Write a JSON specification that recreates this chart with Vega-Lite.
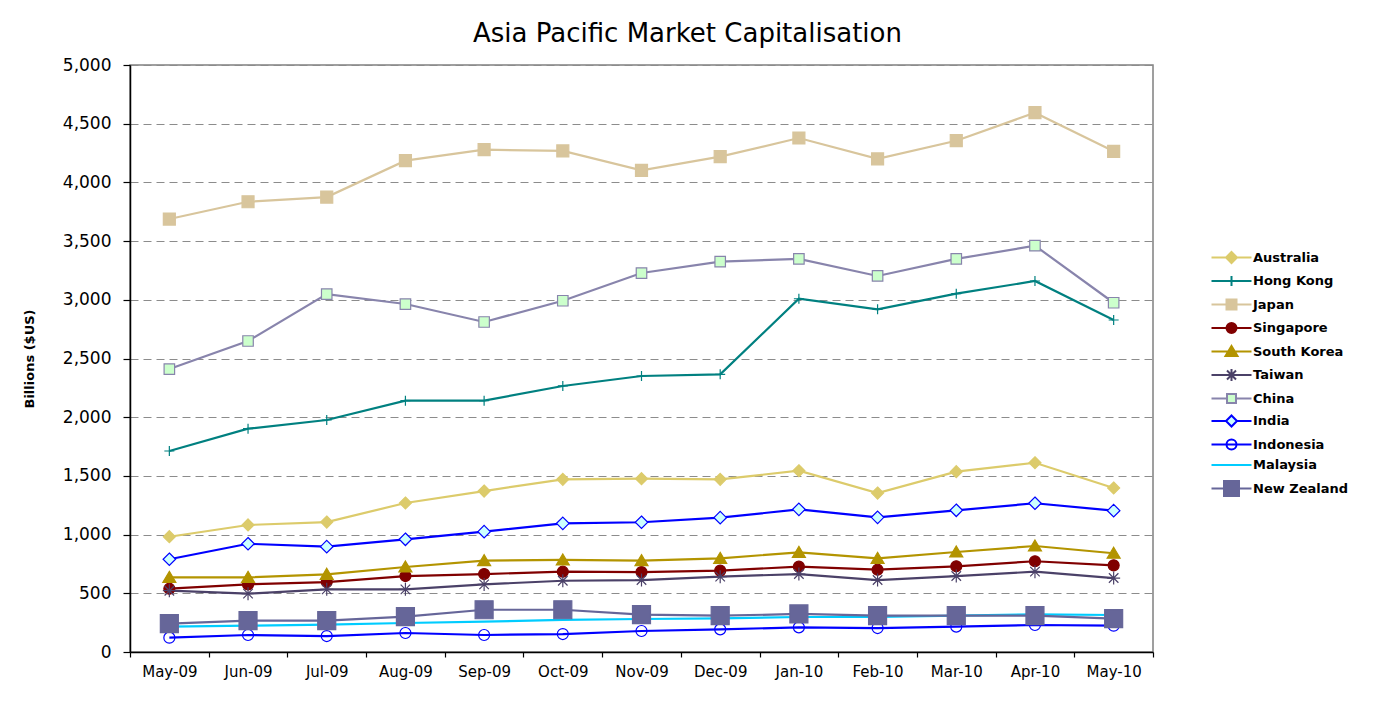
{
  "$schema": "https://vega.github.io/schema/vega-lite/v6.json",
  "autosize": {"type": "none"},
  "width": 1023,
  "height": 587,
  "padding": {"left": 130, "top": 65, "right": 220, "bottom": 74},
  "background": "#ffffff",
  "title": {
    "text": "Asia Pacific Market Capitalisation",
    "font": "DejaVu Sans",
    "fontSize": 26,
    "fontWeight": "normal",
    "color": "#000000",
    "anchor": "middle",
    "baseline": "alphabetic",
    "dx": 46,
    "dy": 28,
    "offset": 16
  },
  "data": {
    "values": [
      {"month": "May-09", "series": "Australia", "value": 982},
      {"month": "Jun-09", "series": "Australia", "value": 1082},
      {"month": "Jul-09", "series": "Australia", "value": 1107},
      {"month": "Aug-09", "series": "Australia", "value": 1269},
      {"month": "Sep-09", "series": "Australia", "value": 1371},
      {"month": "Oct-09", "series": "Australia", "value": 1471},
      {"month": "Nov-09", "series": "Australia", "value": 1476},
      {"month": "Dec-09", "series": "Australia", "value": 1471},
      {"month": "Jan-10", "series": "Australia", "value": 1544},
      {"month": "Feb-10", "series": "Australia", "value": 1354},
      {"month": "Mar-10", "series": "Australia", "value": 1536},
      {"month": "Apr-10", "series": "Australia", "value": 1612},
      {"month": "May-10", "series": "Australia", "value": 1397},
      {"month": "May-09", "series": "Hong Kong", "value": 1712},
      {"month": "Jun-09", "series": "Hong Kong", "value": 1902},
      {"month": "Jul-09", "series": "Hong Kong", "value": 1976},
      {"month": "Aug-09", "series": "Hong Kong", "value": 2141},
      {"month": "Sep-09", "series": "Hong Kong", "value": 2141},
      {"month": "Oct-09", "series": "Hong Kong", "value": 2266},
      {"month": "Nov-09", "series": "Hong Kong", "value": 2351},
      {"month": "Dec-09", "series": "Hong Kong", "value": 2365},
      {"month": "Jan-10", "series": "Hong Kong", "value": 3009},
      {"month": "Feb-10", "series": "Hong Kong", "value": 2919},
      {"month": "Mar-10", "series": "Hong Kong", "value": 3052},
      {"month": "Apr-10", "series": "Hong Kong", "value": 3160},
      {"month": "May-10", "series": "Hong Kong", "value": 2828},
      {"month": "May-09", "series": "Japan", "value": 3688},
      {"month": "Jun-09", "series": "Japan", "value": 3835},
      {"month": "Jul-09", "series": "Japan", "value": 3875},
      {"month": "Aug-09", "series": "Japan", "value": 4185},
      {"month": "Sep-09", "series": "Japan", "value": 4279},
      {"month": "Oct-09", "series": "Japan", "value": 4268},
      {"month": "Nov-09", "series": "Japan", "value": 4103},
      {"month": "Dec-09", "series": "Japan", "value": 4219},
      {"month": "Jan-10", "series": "Japan", "value": 4378},
      {"month": "Feb-10", "series": "Japan", "value": 4200},
      {"month": "Mar-10", "series": "Japan", "value": 4355},
      {"month": "Apr-10", "series": "Japan", "value": 4594},
      {"month": "May-10", "series": "Japan", "value": 4265},
      {"month": "May-09", "series": "Singapore", "value": 539},
      {"month": "Jun-09", "series": "Singapore", "value": 576},
      {"month": "Jul-09", "series": "Singapore", "value": 596},
      {"month": "Aug-09", "series": "Singapore", "value": 647},
      {"month": "Sep-09", "series": "Singapore", "value": 664},
      {"month": "Oct-09", "series": "Singapore", "value": 684},
      {"month": "Nov-09", "series": "Singapore", "value": 681},
      {"month": "Dec-09", "series": "Singapore", "value": 693},
      {"month": "Jan-10", "series": "Singapore", "value": 727},
      {"month": "Feb-10", "series": "Singapore", "value": 701},
      {"month": "Mar-10", "series": "Singapore", "value": 730},
      {"month": "Apr-10", "series": "Singapore", "value": 773},
      {"month": "May-10", "series": "Singapore", "value": 738},
      {"month": "May-09", "series": "South Korea", "value": 636},
      {"month": "Jun-09", "series": "South Korea", "value": 636},
      {"month": "Jul-09", "series": "South Korea", "value": 662},
      {"month": "Aug-09", "series": "South Korea", "value": 724},
      {"month": "Sep-09", "series": "South Korea", "value": 778},
      {"month": "Oct-09", "series": "South Korea", "value": 784},
      {"month": "Nov-09", "series": "South Korea", "value": 778},
      {"month": "Dec-09", "series": "South Korea", "value": 798},
      {"month": "Jan-10", "series": "South Korea", "value": 849},
      {"month": "Feb-10", "series": "South Korea", "value": 798},
      {"month": "Mar-10", "series": "South Korea", "value": 852},
      {"month": "Apr-10", "series": "South Korea", "value": 903},
      {"month": "May-10", "series": "South Korea", "value": 841},
      {"month": "May-09", "series": "Taiwan", "value": 522},
      {"month": "Jun-09", "series": "Taiwan", "value": 497},
      {"month": "Jul-09", "series": "Taiwan", "value": 534},
      {"month": "Aug-09", "series": "Taiwan", "value": 534},
      {"month": "Sep-09", "series": "Taiwan", "value": 576},
      {"month": "Oct-09", "series": "Taiwan", "value": 607},
      {"month": "Nov-09", "series": "Taiwan", "value": 613},
      {"month": "Dec-09", "series": "Taiwan", "value": 642},
      {"month": "Jan-10", "series": "Taiwan", "value": 664},
      {"month": "Feb-10", "series": "Taiwan", "value": 613},
      {"month": "Mar-10", "series": "Taiwan", "value": 647},
      {"month": "Apr-10", "series": "Taiwan", "value": 684},
      {"month": "May-10", "series": "Taiwan", "value": 630},
      {"month": "May-09", "series": "China", "value": 2410},
      {"month": "Jun-09", "series": "China", "value": 2649},
      {"month": "Jul-09", "series": "China", "value": 3049},
      {"month": "Aug-09", "series": "China", "value": 2964},
      {"month": "Sep-09", "series": "China", "value": 2811},
      {"month": "Oct-09", "series": "China", "value": 2992},
      {"month": "Nov-09", "series": "China", "value": 3228},
      {"month": "Dec-09", "series": "China", "value": 3325},
      {"month": "Jan-10", "series": "China", "value": 3348},
      {"month": "Feb-10", "series": "China", "value": 3203},
      {"month": "Mar-10", "series": "China", "value": 3348},
      {"month": "Apr-10", "series": "China", "value": 3461},
      {"month": "May-10", "series": "China", "value": 2975},
      {"month": "May-09", "series": "India", "value": 790},
      {"month": "Jun-09", "series": "India", "value": 922},
      {"month": "Jul-09", "series": "India", "value": 897},
      {"month": "Aug-09", "series": "India", "value": 960},
      {"month": "Sep-09", "series": "India", "value": 1025},
      {"month": "Oct-09", "series": "India", "value": 1096},
      {"month": "Nov-09", "series": "India", "value": 1105},
      {"month": "Dec-09", "series": "India", "value": 1144},
      {"month": "Jan-10", "series": "India", "value": 1215},
      {"month": "Feb-10", "series": "India", "value": 1147},
      {"month": "Mar-10", "series": "India", "value": 1207},
      {"month": "Apr-10", "series": "India", "value": 1267},
      {"month": "May-10", "series": "India", "value": 1204},
      {"month": "May-09", "series": "Indonesia", "value": 122},
      {"month": "Jun-09", "series": "Indonesia", "value": 145},
      {"month": "Jul-09", "series": "Indonesia", "value": 136},
      {"month": "Aug-09", "series": "Indonesia", "value": 162},
      {"month": "Sep-09", "series": "Indonesia", "value": 145},
      {"month": "Oct-09", "series": "Indonesia", "value": 153},
      {"month": "Nov-09", "series": "Indonesia", "value": 179},
      {"month": "Dec-09", "series": "Indonesia", "value": 193},
      {"month": "Jan-10", "series": "Indonesia", "value": 210},
      {"month": "Feb-10", "series": "Indonesia", "value": 204},
      {"month": "Mar-10", "series": "Indonesia", "value": 216},
      {"month": "Apr-10", "series": "Indonesia", "value": 230},
      {"month": "May-10", "series": "Indonesia", "value": 224},
      {"month": "May-09", "series": "Malaysia", "value": 216},
      {"month": "Jun-09", "series": "Malaysia", "value": 224},
      {"month": "Jul-09", "series": "Malaysia", "value": 233},
      {"month": "Aug-09", "series": "Malaysia", "value": 247},
      {"month": "Sep-09", "series": "Malaysia", "value": 258},
      {"month": "Oct-09", "series": "Malaysia", "value": 273},
      {"month": "Nov-09", "series": "Malaysia", "value": 281},
      {"month": "Dec-09", "series": "Malaysia", "value": 287},
      {"month": "Jan-10", "series": "Malaysia", "value": 298},
      {"month": "Feb-10", "series": "Malaysia", "value": 298},
      {"month": "Mar-10", "series": "Malaysia", "value": 309},
      {"month": "Apr-10", "series": "Malaysia", "value": 321},
      {"month": "May-10", "series": "Malaysia", "value": 315},
      {"month": "May-09", "series": "New Zealand", "value": 241},
      {"month": "Jun-09", "series": "New Zealand", "value": 267},
      {"month": "Jul-09", "series": "New Zealand", "value": 267},
      {"month": "Aug-09", "series": "New Zealand", "value": 301},
      {"month": "Sep-09", "series": "New Zealand", "value": 360},
      {"month": "Oct-09", "series": "New Zealand", "value": 360},
      {"month": "Nov-09", "series": "New Zealand", "value": 318},
      {"month": "Dec-09", "series": "New Zealand", "value": 309},
      {"month": "Jan-10", "series": "New Zealand", "value": 324},
      {"month": "Feb-10", "series": "New Zealand", "value": 309},
      {"month": "Mar-10", "series": "New Zealand", "value": 309},
      {"month": "Apr-10", "series": "New Zealand", "value": 309},
      {"month": "May-10", "series": "New Zealand", "value": 284}
    ]
  },
  "encoding": {
    "x": {
      "field": "month",
      "type": "ordinal",
      "sort": ["May-09", "Jun-09", "Jul-09", "Aug-09", "Sep-09", "Oct-09", "Nov-09", "Dec-09", "Jan-10", "Feb-10", "Mar-10", "Apr-10", "May-10"],
      "scale": {"type": "band", "paddingInner": 0, "paddingOuter": 0},
      "bandPosition": 0.5,
      "axis": {
        "title": null,
        "labelAngle": 0,
        "tickBand": "extent",
        "grid": false,
        "domainColor": "#000000",
        "domainWidth": 1.5,
        "tickColor": "#000000",
        "tickWidth": 1.2,
        "tickSize": 5,
        "labelFont": "DejaVu Sans",
        "labelFontSize": 15,
        "labelColor": "#000000",
        "labelPadding": 7
      }
    },
    "y": {
      "field": "value",
      "type": "quantitative",
      "scale": {"domain": [0, 5000], "nice": false, "zero": true},
      "axis": {
        "title": "Billions ($US)",
        "titleFont": "DejaVu Sans",
        "titleFontSize": 13,
        "titleFontWeight": "bold",
        "titleColor": "#000000",
        "titlePadding": 26,
        "values": [0, 500, 1000, 1500, 2000, 2500, 3000, 3500, 4000, 4500, 5000],
        "format": ",.0f",
        "grid": true,
        "gridColor": "#8C8C8C",
        "gridDash": [8, 5],
        "gridWidth": 1,
        "domainColor": "#000000",
        "domainWidth": 1.5,
        "tickColor": "#000000",
        "tickWidth": 1.2,
        "tickSize": 7,
        "labelFont": "DejaVu Sans",
        "labelFontSize": 17,
        "labelColor": "#000000",
        "labelPadding": 12
      }
    }
  },
  "layer": [
    {
      "mark": {"type": "line", "strokeWidth": 2.2},
      "encoding": {
        "stroke": {
          "field": "series",
          "type": "nominal",
          "scale": {
            "domain": ["Australia", "Hong Kong", "Japan", "Singapore", "South Korea", "Taiwan", "China", "India", "Indonesia", "Malaysia", "New Zealand"],
            "range": ["#DCCB6B", "#008080", "#D8C59C", "#800000", "#B39400", "#4B4168", "#8884AC", "#0000FF", "#0000FF", "#00CCFF", "#666699"]
          },
          "legend": {
            "title": null,
            "orient": "none",
            "legendX": 1095,
            "legendY": 186,
            "padding": 0,
            "symbolSize": 100,
            "labelOffset": 15,
            "rowPadding": 4.5,
            "labelFont": "DejaVu Sans",
            "labelFontSize": 13,
            "labelFontWeight": "bold",
            "labelColor": "#000000",
            "encode": {
              "symbols": {
                "update": {
                  "strokeWidth": {"value": 2},
                  "shape": {"signal": "({'Australia': 'M-4,0H4M0,-1.1L1.1,0L0,1.1L-1.1,0Z', 'Hong Kong': 'M-4,0H4M0,-1V1', 'Japan': 'M-4,0H4M-1,-1H1V1H-1Z', 'Singapore': 'M-4,0H4M1,0A1,1 0 1,1 -1,0A1,1 0 1,1 1,0Z', 'South Korea': 'M-4,0H4M0,-1.1L1.2,0.9H-1.2Z', 'Taiwan': 'M-4,0H4M0,-1.2V1.2M-0.9,-0.9L0.9,0.9M-0.9,0.9L0.9,-0.9', 'China': 'M-4,0H-0.9M0.9,0H4M-0.9,-0.9H0.9V0.9H-0.9Z', 'India': 'M-4,0H-1.1M1.1,0H4M0,-1.1L1.1,0L0,1.1L-1.1,0Z', 'Indonesia': 'M-4,0H4M1,0A1,1 0 1,1 -1,0A1,1 0 1,1 1,0Z', 'Malaysia': 'M-4,0H4', 'New Zealand': 'M-4,0H4M-1.5,-1.5H1.5V1.5H-1.5Z'})[datum.value]"},
                  "fill": {"signal": "({'Australia': '#DCCB6B', 'Hong Kong': 'transparent', 'Japan': '#D8C59C', 'Singapore': '#800000', 'South Korea': '#B39400', 'Taiwan': 'transparent', 'China': '#CCFFCC', 'India': '#CCFFFF', 'Indonesia': 'transparent', 'Malaysia': 'transparent', 'New Zealand': '#666699'})[datum.value]"}
                }
              }
            }
          }
        }
      }
    },
    {
      "transform": [{"filter": "datum.series !== 'Malaysia'"}],
      "mark": {"type": "point", "filled": true, "size": 100, "strokeWidth": 1.2, "opacity": 1},
      "encoding": {
        "stroke": {
          "field": "series",
          "type": "nominal",
          "scale": {
            "domain": ["Australia", "Hong Kong", "Japan", "Singapore", "South Korea", "Taiwan", "China", "India", "Indonesia", "Malaysia", "New Zealand"],
            "range": ["#DCCB6B", "#008080", "#D8C59C", "#800000", "#B39400", "#4B4168", "#8884AC", "#0000FF", "#0000FF", "#00CCFF", "#666699"]
          },
          "legend": null
        },
        "fill": {
          "field": "series",
          "type": "nominal",
          "scale": {
            "domain": ["Australia", "Hong Kong", "Japan", "Singapore", "South Korea", "Taiwan", "China", "India", "Indonesia", "New Zealand"],
            "range": ["#DCCB6B", "transparent", "#D8C59C", "#800000", "#B39400", "transparent", "#CCFFCC", "#CCFFFF", "transparent", "#666699"]
          },
          "legend": null
        },
        "shape": {
          "field": "series",
          "type": "nominal",
          "scale": {
            "domain": ["Australia", "Hong Kong", "Japan", "Singapore", "South Korea", "Taiwan", "China", "India", "Indonesia", "New Zealand"],
            "range": [
              "M0,-1.2L1.2,0L0,1.2L-1.2,0Z",
              "M-1,0H1M0,-1V1",
              "M-1.2,-1.2H1.2V1.2H-1.2Z",
              "M1.1,0A1.1,1.1 0 1,1 -1.1,0A1.1,1.1 0 1,1 1.1,0Z",
              "M0,-1.2L1.3,1H-1.3Z",
              "M-1.3,0H1.3M0,-1.3V1.3M-0.95,-0.95L0.95,0.95M-0.95,0.95L0.95,-0.95",
              "M-1.05,-1.05H1.05V1.05H-1.05Z",
              "M0,-1.25L1.25,0L0,1.25L-1.25,0Z",
              "M1.1,0A1.1,1.1 0 1,1 -1.1,0A1.1,1.1 0 1,1 1.1,0Z",
              "M-1.8,-1.8H1.8V1.8H-1.8Z"
            ]
          },
          "legend": null
        }
      }
    }
  ],
  "config": {
    "view": {"stroke": "#808080", "strokeWidth": 1.5},
    "font": "DejaVu Sans"
  }
}
